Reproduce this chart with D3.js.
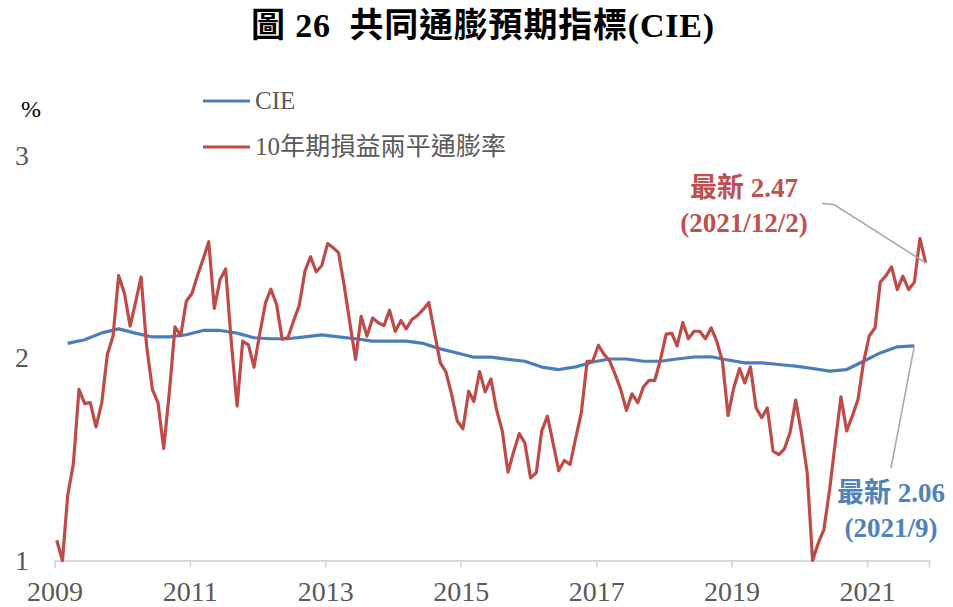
<!DOCTYPE html>
<html>
<head>
<meta charset="utf-8">
<script src="https://cdn.jsdelivr.net/npm/d3@7/dist/d3.min.js"></script>
<style>
  html, body { margin: 0; padding: 0; background: #fff; }
  svg { display: block; }
  text { font-family: "Liberation Serif", "Noto Sans CJK TC", serif; }
</style>
</head>
<body>
<svg id="chart" width="953" height="607"></svg>
<script>
// 10-year breakeven inflation, monthly from Jan 2009 (last value: 2021/12/2)
const breakevenStart = [2009, 0];
const breakeven = [
  1.10, 1.00, 1.32, 1.48, 1.845, 1.775, 1.78, 1.66, 1.78, 2.017, 2.11, 2.407,
  2.32, 2.157, 2.27, 2.40, 2.058, 1.845, 1.78, 1.553, 1.836, 2.154, 2.111, 2.28,
  2.32, 2.412, 2.486, 2.574, 2.245, 2.388, 2.44, 2.075, 1.762, 2.083, 2.065, 1.955,
  2.12, 2.272, 2.34, 2.264, 2.093, 2.10, 2.182, 2.259, 2.429, 2.50, 2.426, 2.457,
  2.565, 2.544, 2.52, 2.355, 2.174, 1.993, 2.206, 2.108, 2.198, 2.174, 2.16, 2.236,
  2.132, 2.185, 2.144, 2.19, 2.21, 2.24, 2.274, 2.124, 1.976, 1.932, 1.82, 1.69,
  1.65, 1.836, 1.785, 1.933, 1.833, 1.897, 1.746, 1.64, 1.436, 1.535, 1.627, 1.58,
  1.408, 1.433, 1.64, 1.713, 1.58, 1.444, 1.494, 1.474, 1.606, 1.733, 1.984, 1.984,
  2.063, 2.017, 1.989, 1.919, 1.845, 1.741, 1.823, 1.779, 1.858, 1.89, 1.89, 1.99,
  2.118, 2.122, 2.06, 2.175, 2.095, 2.132, 2.132, 2.095, 2.149, 2.083, 1.984, 1.716,
  1.853, 1.948, 1.877, 1.956, 1.754, 1.705, 1.754, 1.54, 1.523, 1.551, 1.634, 1.792,
  1.63, 1.433, 1.00, 1.087, 1.153, 1.351, 1.58, 1.808, 1.64, 1.713, 1.795, 1.98,
  2.11, 2.149, 2.374, 2.407, 2.45, 2.338, 2.404, 2.338, 2.374, 2.59, 2.47
];

// CIE, quarterly from 2009 Q1 (March) to 2021 Q3 (September)
const cieStart = [2009, 2];
const cie = [
  2.072, 2.09, 2.124, 2.144, 2.123, 2.104, 2.104, 2.115, 2.136, 2.136, 2.123, 2.10,
  2.095, 2.095, 2.104, 2.114, 2.104, 2.095, 2.083, 2.083, 2.083, 2.072, 2.045, 2.025,
  2.004, 2.004, 1.993, 1.984, 1.955, 1.943, 1.956, 1.98, 1.995, 1.995, 1.984, 1.984,
  1.995, 2.005, 2.006, 1.99, 1.976, 1.976, 1.968, 1.96, 1.948, 1.935, 1.943, 1.984,
  2.025, 2.055, 2.06
];

const yearTicks = [2009, 2011, 2013, 2015, 2017, 2019, 2021];
const yTicks = [1, 2, 3];
const seriesNames = ["CIE", "10年期損益兩平通膨率"];
const titleText = "圖 26  共同通膨預期指標(CIE)";
const latestRed = ["最新 2.47", "(2021/12/2)"];
const latestBlue = ["最新 2.06", "(2021/9)"];

const BLUE = "#4A7EBB";
const RED = "#BE4B48";
const GREY_TEXT = "#595959";

const svg = d3.select("#chart");

const x = d3.scaleTime()
  .domain([new Date(2009, 0, 1), new Date(2021, 11, 1)])
  .range([54.5, 929]);
const y = d3.scaleLinear().domain([1, 3]).range([560.5, 155.5]);

const redData = breakeven.map((v, i) => ({ date: new Date(breakevenStart[0], breakevenStart[1] + i, 13), v }));
const blueData = cie.map((v, i) => ({ date: new Date(cieStart[0], cieStart[1] + 3 * i, 13), v }));

// Title
svg.append("text")
  .attr("x", 483).attr("y", 37)
  .attr("text-anchor", "middle")
  .attr("font-size", 34).attr("font-weight", "bold").attr("fill", "#000")
  .attr("letter-spacing", 0.8)
  .attr("xml:space", "preserve")
  .text(titleText);

// X axis
const xAxis = d3.axisBottom(x)
  .tickValues(yearTicks.map(yr => new Date(yr, 0, 1)))
  .tickFormat(d3.timeFormat("%Y"))
  .tickSize(7).tickPadding(14);
const gx = svg.append("g").attr("transform", `translate(0,${y(1)})`).call(xAxis);
gx.select(".domain").attr("stroke", "#D9D9D9").attr("stroke-width", 2);
gx.selectAll(".tick line").attr("stroke", "#D9D9D9").attr("stroke-width", 2);
gx.selectAll(".tick text")
  .attr("font-size", 28).attr("fill", GREY_TEXT)
  .attr("font-family", "Liberation Serif");

// Y tick labels (no axis line)
svg.append("g").selectAll("text").data(yTicks).join("text")
  .attr("x", 29).attr("y", d => y(d) + 9)
  .attr("text-anchor", "end")
  .attr("font-size", 28).attr("fill", GREY_TEXT)
  .text(d => d);

svg.append("text")
  .attr("x", 31).attr("y", 117).attr("text-anchor", "middle")
  .attr("font-size", 24).attr("fill", "#000").text("%");

// Lines
const line = d3.line().x(d => x(d.date)).y(d => y(d.v));
svg.append("path").datum(blueData)
  .attr("fill", "none").attr("stroke", BLUE).attr("stroke-width", 3.2)
  .attr("stroke-linejoin", "round").attr("d", line);
svg.append("path").datum(redData)
  .attr("fill", "none").attr("stroke", RED).attr("stroke-width", 3.2)
  .attr("stroke-linejoin", "round").attr("d", line);

// Legend
const legend = svg.append("g");
const legendRows = [
  { name: seriesNames[0], color: BLUE, y: 101, size: 25, len: null },
  { name: seriesNames[1], color: RED, y: 147, size: 25, len: 251 }
];
legendRows.forEach(r => {
  legend.append("line")
    .attr("x1", 203).attr("x2", 250).attr("y1", r.y).attr("y2", r.y)
    .attr("stroke", r.color).attr("stroke-width", 3.2);
  const t = legend.append("text")
    .attr("x", 255).attr("y", r.y + 8)
    .attr("font-size", r.size).attr("fill", GREY_TEXT)
    .text(r.name);
  if (r.len) t.attr("textLength", r.len).attr("lengthAdjust", "spacing");
});

// Latest-value callouts
const lastRed = redData[redData.length - 1];
const lastBlue = blueData[blueData.length - 1];

svg.append("path")
  .attr("fill", "none").attr("stroke", "#A6A6A6").attr("stroke-width", 1.5)
  .attr("d", `M822,203.5L834,204.5L${x(lastRed.date)},${y(lastRed.v)}`);
svg.append("path")
  .attr("fill", "none").attr("stroke", "#A6A6A6").attr("stroke-width", 1.5)
  .attr("d", `M891,468L${x(lastBlue.date)},${y(lastBlue.v)}`);

function callout(lines, cx, y0, color) {
  lines.forEach((s, i) => {
    svg.append("text")
      .attr("x", cx).attr("y", y0 + i * 35)
      .attr("text-anchor", "middle")
      .attr("font-size", 27).attr("font-weight", "bold").attr("fill", color)
      .text(s);
  });
}
callout(latestRed, 744, 197, "#C0504D");
callout(latestBlue, 891, 502, "#4F81BD");
</script>
</body>
</html>
